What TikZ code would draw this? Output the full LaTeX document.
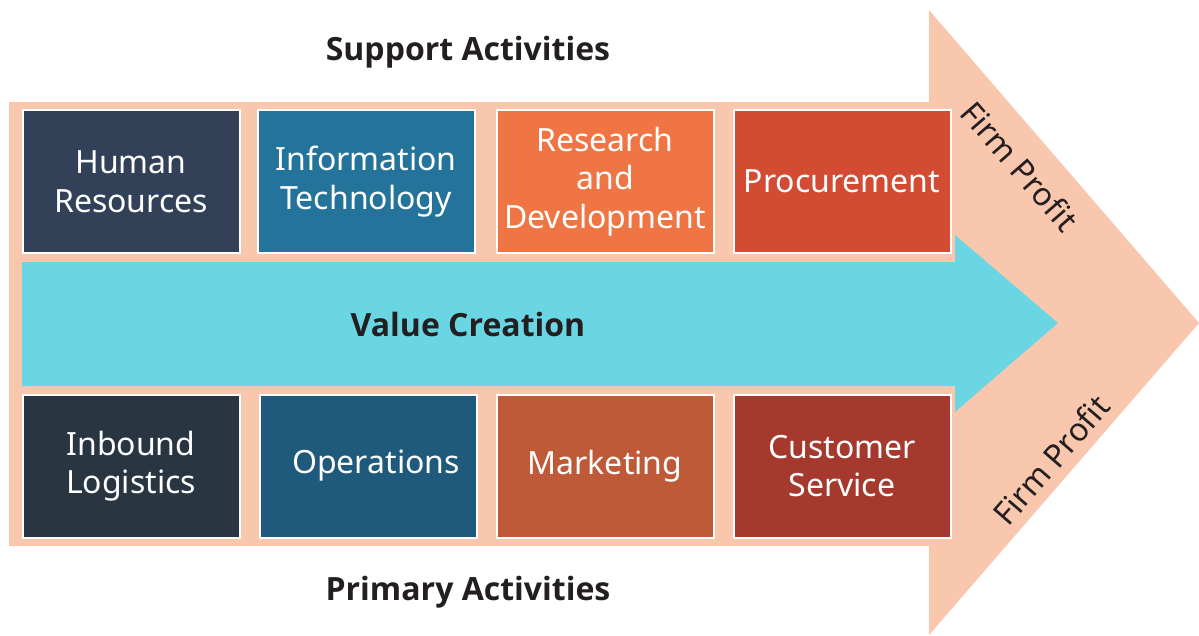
\documentclass[tikz,border=0pt]{standalone}
\usepackage{fontspec}
\setmainfont{Noto Sans}
\newfontfamily\titlefont{Open Sans}
\definecolor{peach}{HTML}{F9C7AD}
\definecolor{cyanv}{HTML}{6BD6E3}
\definecolor{cHR}{HTML}{324157}
\definecolor{cIT}{HTML}{24739B}
\definecolor{cRD}{HTML}{F07545}
\definecolor{cPR}{HTML}{D34B33}
\definecolor{cIL}{HTML}{293642}
\definecolor{cOP}{HTML}{1F5A7C}
\definecolor{cMK}{HTML}{BF5A38}
\definecolor{cCS}{HTML}{A5392D}
\definecolor{ink}{HTML}{231F20}
\tikzset{
  actbox/.style={draw=white, line width=2pt, minimum width=217pt, minimum height=143pt,
    text=white, align=center, font=\fontsize{32}{38.5}\selectfont, inner sep=0pt},
  title/.style={text=ink, font=\titlefont\bfseries\fontsize{32}{36}\selectfont, inner sep=0pt},
  profit/.style={text=ink, font=\fontsize{32}{36}\selectfont, inner sep=0pt}
}
\begin{document}
\begin{tikzpicture}[x=1pt,y=-1pt]
\useasboundingbox (0,0) rectangle (1199,635);
% big peach arrow
\fill[peach] (9,102) -- (929,102) -- (929,10) -- (1199,323) -- (929,635) -- (929,546) -- (9,546) -- cycle;
% cyan arrow
\fill[cyanv] (22,262) -- (955,262) -- (955,235) -- (1058,323) -- (955,412) -- (955,386) -- (22,386) -- cycle;
% support boxes
\node[actbox, fill=cHR] (hr) at (131,181.5) {Human\\Resources};
\node[actbox, fill=cIT] (it) at (366,181.5) {Information\\Technology};
\node[actbox, fill=cRD] (rd) at (605,181.5) {Research\\and\\Development};
\node[actbox, fill=cPR] (pr) at (842,181.5) {Procurement};
% primary boxes
\node[actbox, fill=cIL] (il) at (131,466) {Inbound\\Logistics};
\node[actbox, fill=cOP] (op) at (368,466) {\hspace*{16pt}Operations};
\node[actbox, fill=cMK] (mk) at (605,466) {Marketing};
\node[actbox, fill=cCS] (cs) at (842,466) {Customer\\Service};
% titles
\node[title] (sup) at (468,52) {Support Activities};
\node[title] (pri) at (468,592) {Primary Activities};
\node[title] (val) at (468,324) {Value Creation};
% firm profit
\node[profit, rotate=-49] (fp1) at (1020,166) {Firm Profit};
\node[profit, rotate=49] (fp2) at (1051,460) {Firm Profit};
\end{tikzpicture}
\end{document}
